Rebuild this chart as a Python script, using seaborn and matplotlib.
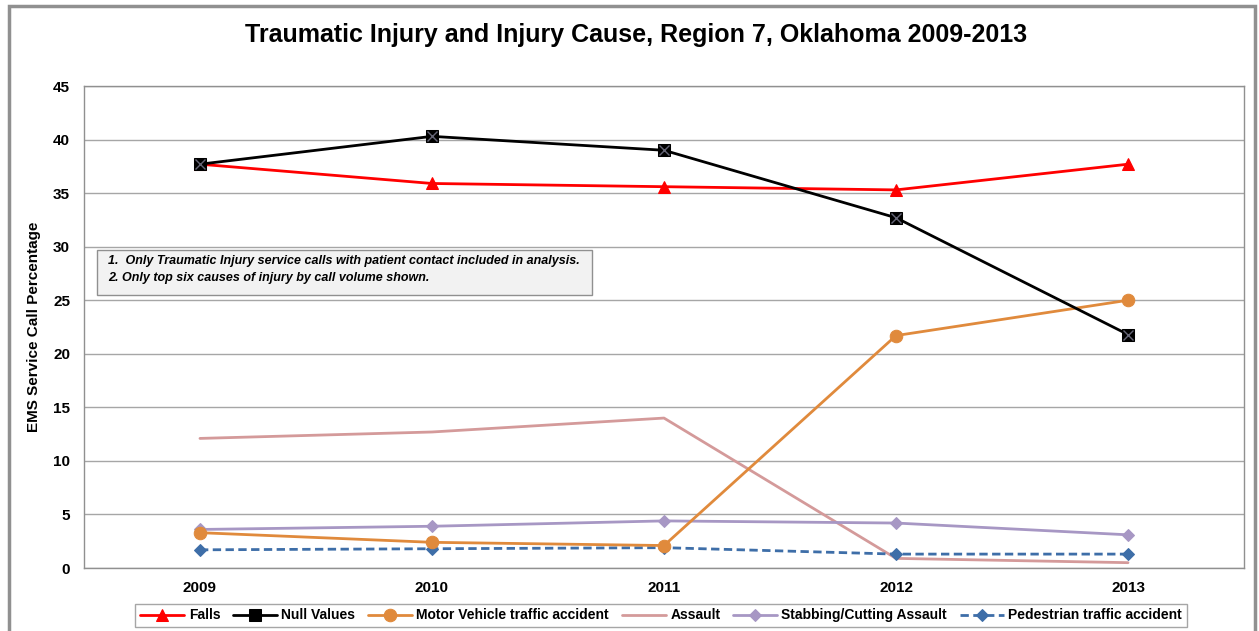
import matplotlib
matplotlib.use("Agg")
import matplotlib.pyplot as plt
from matplotlib.patches import Rectangle
import seaborn as sns
import pandas as pd

years = ["2009", "2010", "2011", "2012", "2013"]
falls = [37.7, 35.9, 35.6, 35.3, 37.7]
null_values = [37.7, 40.3, 39.0, 32.7, 21.8]
motor_vehicle = [3.3, 2.4, 2.1, 21.7, 25.0]
assault = [12.1, 12.7, 14.0, 0.9, 0.5]
stabbing = [3.6, 3.9, 4.4, 4.2, 3.1]
pedestrian = [1.7, 1.8, 1.9, 1.3, 1.3]

series_names = ["Falls", "Null Values", "Motor Vehicle traffic accident",
                "Assault", "Stabbing/Cutting Assault", "Pedestrian traffic accident"]
series_values = [falls, null_values, motor_vehicle, assault, stabbing, pedestrian]

title = "Traumatic Injury and Injury Cause, Region 7, Oklahoma 2009-2013"
notes = ["1.  Only Traumatic Injury service calls with patient contact included in analysis.",
         "2. Only top six causes of injury by call volume shown."]

sns.set_theme(style="white")
plt.rcParams["font.family"] = ["Liberation Sans", "DejaVu Sans"]
plt.rcParams.update({"text.color": "black", "axes.labelcolor": "black",
                     "xtick.labelcolor": "black", "ytick.labelcolor": "black"})

rows = []
for name, vals in zip(series_names, series_values):
    for i, v in enumerate(vals):
        rows.append({"series": name, "pos": i, "value": v})
df = pd.DataFrame(rows)

styles = {
    "Falls": dict(color="#FF0000", marker="^", markersize=9, linestyle="-"),
    "Null Values": dict(color="#000000", marker="s", markersize=9, linestyle="-"),
    "Motor Vehicle traffic accident": dict(color="#E08A3C", marker="o", markersize=9, linestyle="-"),
    "Assault": dict(color="#D49A9A", marker=None, markersize=0, linestyle="-"),
    "Stabbing/Cutting Assault": dict(color="#A797C4", marker="D", markersize=6, linestyle="-"),
    "Pedestrian traffic accident": dict(color="#3E6EA8", marker="D", markersize=6, linestyle=(0, (3.0, 1.6))),
}

fig = plt.figure(figsize=(12.59, 6.31), dpi=100)
ax = fig.add_axes([0.0667, 0.0998, 0.9214, 0.7639])

draw_order = ["Assault", "Stabbing/Cutting Assault", "Pedestrian traffic accident",
              "Motor Vehicle traffic accident", "Falls", "Null Values"]
handles = {}
for name in draw_order:
    st = styles[name]
    sub = df[df["series"] == name]
    sns.lineplot(data=sub, x="pos", y="value", ax=ax, color=st["color"],
                 marker=st["marker"], markersize=st["markersize"],
                 markeredgecolor=st["color"], linewidth=2.0,
                 linestyle=st["linestyle"], label=name, legend=False,
                 zorder=3 if name != "Null Values" else 4)
    line = ax.get_lines()[-1]
    handles[name] = line
    if name == "Null Values":
        ax.plot(sub["pos"], sub["value"], linestyle="none", marker="x",
                markersize=7, markeredgewidth=1.0, color="#666677", zorder=5)

ax.set_xlim(-0.5, 4.5)
ax.set_ylim(0, 45)
ax.set_yticks(range(0, 46, 5))
ax.set_xticks(range(5))
ax.set_xticklabels(years)
ax.set_xticks([0.5, 1.5, 2.5, 3.5], minor=True)
ax.tick_params(axis="x", which="major", length=0, pad=9, labelsize=11)
ax.tick_params(axis="x", which="minor", length=6, width=1, color="#888888", direction="out")
ax.tick_params(axis="y", length=6, width=1, color="#888888", direction="out", pad=4, labelsize=11)
for lab in ax.get_xticklabels() + ax.get_yticklabels():
    lab.set_fontweight("bold")
ax.grid(axis="y", color="#A6A6A6", linewidth=1)
ax.set_axisbelow(True)
for sp in ax.spines.values():
    sp.set_color("#909090")
    sp.set_linewidth(1)
ax.set_xlabel("")
ax.set_ylabel("EMS Service Call Percentage", fontsize=11, fontweight="bold")
ax.yaxis.set_label_coords(-0.037, 0.5)

# notes box
ax.add_patch(Rectangle((0.0112, 0.566), 0.4267, 0.094, transform=ax.transAxes,
                       facecolor="#F2F2F2", edgecolor="#909090", linewidth=1, zorder=6))
ax.text(0.021, 0.637, notes[0], transform=ax.transAxes, fontsize=9, fontweight="bold",
        style="italic", va="center", ha="left", zorder=7)
ax.text(0.021, 0.601, notes[1], transform=ax.transAxes, fontsize=9, fontweight="bold",
        style="italic", va="center", ha="left", zorder=7)

fig.text(0.505, 0.944, title, ha="center", va="center", fontsize=18, fontweight="bold")

leg = fig.legend([handles[n] for n in series_names], series_names, loc="center",
                 bbox_to_anchor=(0.525, 0.0246), ncol=6, frameon=True, fancybox=False,
                 prop={"weight": "bold", "size": 10},
                 handlelength=3.2, handletextpad=0.3, columnspacing=0.9,
                 borderpad=0.35, edgecolor="#909090")
leg.get_frame().set_linewidth(1)

# outer frame of the figure
fig.add_artist(Rectangle((0.007, -0.01), 0.99, 1.0, transform=fig.transFigure,
                         facecolor="none", edgecolor="#909090", linewidth=2.5))

fig.savefig("out.png", dpi=100)
